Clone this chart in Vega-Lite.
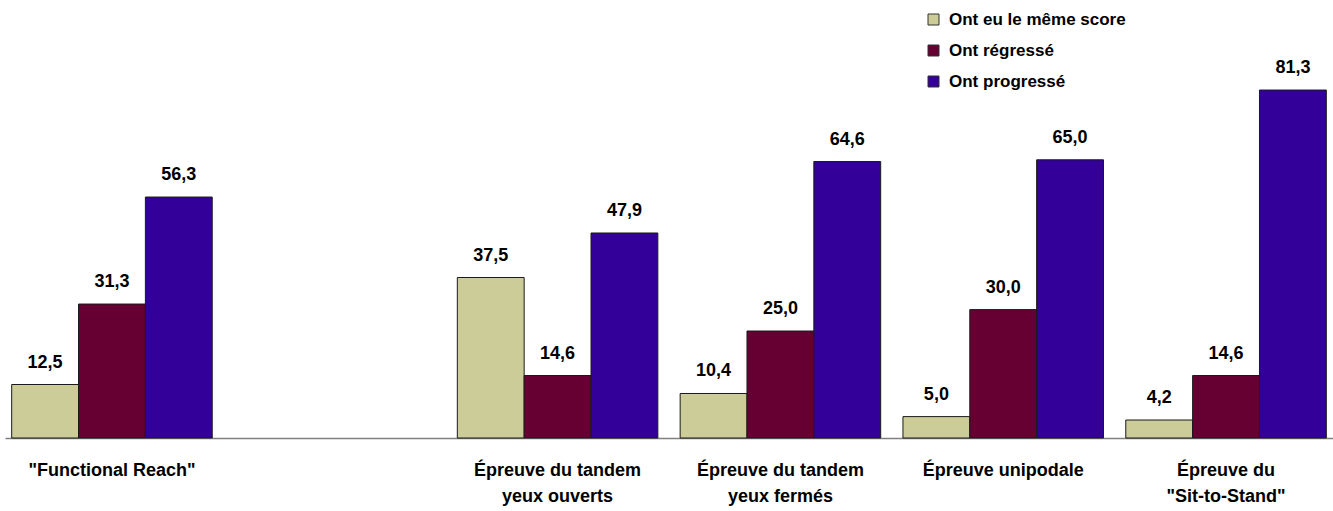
{
  "$schema": "https://vega.github.io/schema/vega-lite/v6.json",
  "width": 1328,
  "height": 428,
  "autosize": "none",
  "padding": {"left": 5, "top": 10, "right": 0, "bottom": 73},
  "background": "white",
  "config": {
    "view": {"stroke": null},
    "font": "Liberation Sans",
    "locale": {"number": {"decimal": ",", "thousands": " ", "grouping": [3], "currency": ["", " €"]}}
  },
  "data": {
    "values": [
      {"epreuve": "\"Functional Reach\"", "groupe": "Ont eu le même score", "pct": 12.5},
      {"epreuve": "\"Functional Reach\"", "groupe": "Ont régressé", "pct": 31.3},
      {"epreuve": "\"Functional Reach\"", "groupe": "Ont progressé", "pct": 56.3},
      {"epreuve": "Épreuve du tandem|yeux ouverts", "groupe": "Ont eu le même score", "pct": 37.5},
      {"epreuve": "Épreuve du tandem|yeux ouverts", "groupe": "Ont régressé", "pct": 14.6},
      {"epreuve": "Épreuve du tandem|yeux ouverts", "groupe": "Ont progressé", "pct": 47.9},
      {"epreuve": "Épreuve du tandem|yeux fermés", "groupe": "Ont eu le même score", "pct": 10.4},
      {"epreuve": "Épreuve du tandem|yeux fermés", "groupe": "Ont régressé", "pct": 25.0},
      {"epreuve": "Épreuve du tandem|yeux fermés", "groupe": "Ont progressé", "pct": 64.6},
      {"epreuve": "Épreuve unipodale", "groupe": "Ont eu le même score", "pct": 5.0},
      {"epreuve": "Épreuve unipodale", "groupe": "Ont régressé", "pct": 30.0},
      {"epreuve": "Épreuve unipodale", "groupe": "Ont progressé", "pct": 65.0},
      {"epreuve": "Épreuve du|\"Sit-to-Stand\"", "groupe": "Ont eu le même score", "pct": 4.2},
      {"epreuve": "Épreuve du|\"Sit-to-Stand\"", "groupe": "Ont régressé", "pct": 14.6},
      {"epreuve": "Épreuve du|\"Sit-to-Stand\"", "groupe": "Ont progressé", "pct": 81.3}
    ]
  },
  "encoding": {
    "x": {
      "field": "epreuve",
      "type": "nominal",
      "sort": null,
      "scale": {
        "domain": ["\"Functional Reach\"", "_vide_", "Épreuve du tandem|yeux ouverts", "Épreuve du tandem|yeux fermés", "Épreuve unipodale", "Épreuve du|\"Sit-to-Stand\""],
        "paddingInner": 0.1,
        "paddingOuter": 0.03
      },
      "axis": {
        "title": null,
        "labelAngle": 0,
        "ticks": false,
        "domainColor": "#808080",
        "domainWidth": 1.5,
        "labelFontSize": 18,
        "labelFontWeight": "bold",
        "labelColor": "#000000",
        "labelPadding": 23,
        "labelLineHeight": 26,
        "labelBaseline": "top",
        "labelExpr": "datum.value == '_vide_' ? '' : split(datum.value, '|')"
      }
    },
    "xOffset": {
      "field": "groupe",
      "type": "nominal",
      "sort": ["Ont eu le même score", "Ont régressé", "Ont progressé"],
      "scale": {"paddingInner": 0, "paddingOuter": 0}
    },
    "y": {
      "field": "pct",
      "type": "quantitative",
      "scale": {"domain": [0, 100], "nice": false},
      "axis": null
    }
  },
  "layer": [
    {
      "mark": {"type": "bar", "stroke": "#1a1a1a", "strokeWidth": 1},
      "encoding": {
        "color": {
          "field": "groupe",
          "type": "nominal",
          "sort": ["Ont eu le même score", "Ont régressé", "Ont progressé"],
          "scale": {
            "domain": ["Ont eu le même score", "Ont régressé", "Ont progressé"],
            "range": ["#CCCC99", "#660033", "#330099"]
          },
          "legend": {
            "title": null,
            "orient": "none",
            "legendX": 920,
            "legendY": 1,
            "padding": 0,
            "symbolType": "square",
            "symbolSize": 121,
            "symbolStrokeColor": "#333333",
            "symbolStrokeWidth": 1,
            "labelFontSize": 17,
            "labelFontWeight": "bold",
            "labelColor": "#000000",
            "labelOffset": 7,
            "labelLimit": 400,
            "rowPadding": 13
          }
        }
      }
    },
    {
      "mark": {"type": "text", "baseline": "alphabetic", "dy": -17, "fontSize": 18, "fontWeight": "bold", "color": "#000000"},
      "encoding": {
        "text": {"field": "pct", "type": "quantitative", "format": ".1f"}
      }
    }
  ]
}
